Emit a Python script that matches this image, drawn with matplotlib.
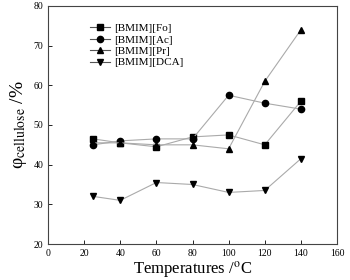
import numpy as np
import matplotlib.pyplot as plt

plt.rc('font', family='Liberation Serif')
plt.rc('mathtext', fontset='stix')

temps = [25, 40, 60, 80, 100, 120, 140]
fo = [46.5, 45.5, 44.5, 47.0, 47.5, 45.0, 56.0]
ac = [45.0, 46.0, 46.5, 46.5, 57.5, 55.5, 54.0]
pr = [45.5, 45.5, 45.0, 45.0, 44.0, 61.0, 74.0]
dca = [32.0, 31.0, 35.5, 35.0, 33.0, 33.5, 41.5]
names = ['[BMIM][Fo]', '[BMIM][Ac]', '[BMIM][Pr]', '[BMIM][DCA]']

fig = plt.figure(figsize=(3.5, 2.8), dpi=100)
ax = fig.add_axes([48/350, 36/280, 289/350, 238/280])

for vals, mk, lab in zip([fo, ac, pr, dca], ['s', 'o', '^', 'v'], names):
    ax.plot(temps, vals, marker=mk, color='#aaaaaa', lw=0.8, ms=4.5,
            mfc='black', mec='black', label=lab)

ax.set_xlim(0, 160)
ax.set_ylim(20, 80)
ax.set_xticks(np.arange(0, 161, 20))
ax.set_yticks(np.arange(20, 81, 10))
ax.tick_params(labelsize=7, direction='in', length=3, width=0.6)
for axis in ['top', 'bottom', 'left', 'right']:
    ax.spines[axis].set_linewidth(0.8)
    ax.spines[axis].set_color('#444444')

ax.set_xlabel(r'Temperatures /$^{\mathrm{o}}$C', fontsize=12, labelpad=1)
ax.set_ylabel('\u03c6$_{\\mathrm{cellulose}}$ /%', fontsize=14, labelpad=3)

leg = ax.legend(loc='upper left', bbox_to_anchor=(0.12, 0.96), frameon=False,
                fontsize=8, handlelength=1.8, labelspacing=0.15, borderpad=0.2,
                handletextpad=0.3)
for h in leg.get_lines():
    h.set_color('#555555')

fig.savefig('out.png', dpi=100)
